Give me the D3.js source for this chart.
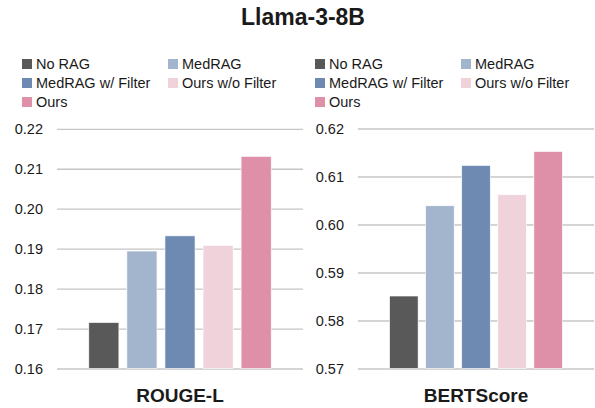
<!DOCTYPE html>
<html>
<head>
<meta charset="utf-8">
<script src="https://cdn.jsdelivr.net/npm/d3@7"></script>
<style>
  body { margin: 0; background: #fff; }
  svg text { font-family: "Liberation Sans", Arial, sans-serif; fill: #1a1a1a; }
</style>
</head>
<body>
<div id="chart"></div>
<script>
// data
var methods = ["No RAG", "MedRAG", "MedRAG w/ Filter", "Ours w/o Filter", "Ours"];
var colors = ["#595959", "#a2b5cd", "#6e8ab2", "#f0d2db", "#dd90a8"];
var rougeL = [0.1715, 0.1894, 0.1932, 0.1908, 0.2131];
var bertScore = [0.5851, 0.6039, 0.6123, 0.6062, 0.6152];
var rougeTicks = [0.16, 0.17, 0.18, 0.19, 0.20, 0.21, 0.22];
var bertTicks = [0.57, 0.58, 0.59, 0.60, 0.61, 0.62];

var W = 595, H = 408;

var svg = d3.select("#chart")
    .append("svg")
    .attr("width", W)
    .attr("height", H);

// title
svg.append("text")
    .attr("x", 303)
    .attr("y", 25)
    .attr("text-anchor", "middle")
    .style("font-size", "23px")
    .style("font-weight", "bold")
    .text("Llama-3-8B");

// one panel = legend + grid + bars + label
function panel(opts) {
    var g = svg.append("g");

    // legend (2 columns)
    methods.forEach(function (m, i) {
        var col = i % 2, row = Math.floor(i / 2);
        var lx = opts.legendX[col], ly = 64 + row * 19;
        g.append("rect")
            .attr("x", lx)
            .attr("y", ly - 5)
            .attr("width", 10)
            .attr("height", 10)
            .attr("fill", colors[i]);
        g.append("text")
            .attr("x", lx + 14)
            .attr("y", ly + 5)
            .style("font-size", "14.5px")
            .text(m);
    });

    var y = d3.scaleLinear()
        .domain([opts.ticks[0], opts.ticks[opts.ticks.length - 1]])
        .range([368.5, opts.topY]);

    var x = d3.scaleBand()
        .domain(methods)
        .range(opts.barRange)
        .paddingInner(0.21)
        .paddingOuter(0.1);

    // gridlines + tick labels
    var yAxis = g.append("g")
        .attr("transform", "translate(" + opts.gridX[0] + ",0)")
        .call(d3.axisLeft(y)
            .tickValues(opts.ticks)
            .tickFormat(d3.format(opts.fmt))
            .tickSize(-(opts.gridX[1] - opts.gridX[0]))
            .tickPadding(14));
    yAxis.select(".domain").remove();
    yAxis.selectAll(".tick line")
        .attr("stroke", "#c6c6c6")
        .attr("stroke-width", 1.3);
    yAxis.selectAll(".tick text")
        .style("font-size", "14.5px")
        .attr("fill", "#1a1a1a");

    // bars
    g.selectAll(".bar")
        .data(opts.values)
        .enter()
        .append("rect")
        .attr("class", "bar")
        .attr("x", function (d, i) { return x(methods[i]); })
        .attr("y", function (d) { return y(d); })
        .attr("width", x.bandwidth())
        .attr("height", function (d) { return y(opts.ticks[0]) - y(d); })
        .attr("fill", function (d, i) { return colors[i]; })
        .attr("stroke", "#ffffff")
        .attr("stroke-width", 0.6);

    // category label
    g.append("text")
        .attr("x", opts.labelX)
        .attr("y", 402)
        .attr("text-anchor", "middle")
        .style("font-size", "19px")
        .style("font-weight", "bold")
        .text(opts.label);
}

panel({
    values: rougeL,
    ticks: rougeTicks,
    fmt: ".2f",
    topY: 128.8,
    gridX: [57, 303],
    barRange: [85, 275],
    legendX: [22, 168],
    labelX: 180,
    label: "ROUGE-L"
});

panel({
    values: bertScore,
    ticks: bertTicks,
    fmt: ".2f",
    topY: 128.5,
    gridX: [358, 594],
    barRange: [386, 566],
    legendX: [315, 461],
    labelX: 476,
    label: "BERTScore"
});
</script>
</body>
</html>
